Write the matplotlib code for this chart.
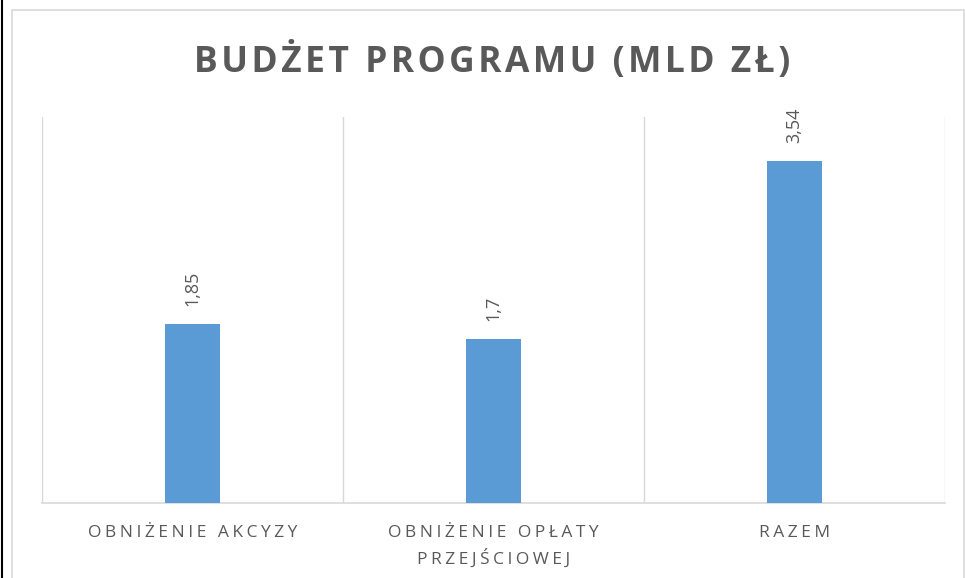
import matplotlib.pyplot as plt
from matplotlib.patches import Rectangle
from matplotlib.lines import Line2D

categories = ['OBNIŻENIE AKCYZY', 'OBNIŻENIE OPŁATY\nPRZEJŚCIOWEJ', 'RAZEM']
values = [1.85, 1.7, 3.54]
value_labels = ['1,85', '1,7', '3,54']
title = 'BUDŻET PROGRAMU (MLD ZŁ)'

bar_color = '#5b9bd5'
grid_color = '#d9d9d9'
text_color = '#595959'


def spaced(s, sep='\u2009'):
    # fake letter spacing
    return '\n'.join(sep.join(line) for line in s.split('\n'))


plt.rcParams['font.family'] = ['Open Sans', 'DejaVu Sans']

fig = plt.figure(figsize=(9.65, 5.78), dpi=100)
W, H = 965, 578

# chart frame and document border
fig.patches.append(Rectangle((12 / W, -0.05), (W - 13) / W, (H - 10) / H + 0.05,
                             transform=fig.transFigure, fill=False,
                             edgecolor=grid_color, linewidth=1.2))
fig.lines.append(Line2D([2 / W, 2 / W], [0, 1], transform=fig.transFigure,
                        color='black', linewidth=1.5))

ax = fig.add_axes([42 / W, 75 / H, 903 / W, 386 / H])
x = range(len(categories))
ax.bar(x, values, width=0.18, color=bar_color, zorder=3)
for xi, v, lab in zip(x, values, value_labels):
    ax.text(xi, v + 0.19, lab, rotation=90, ha='center', va='bottom',
            fontsize=13, color=text_color)

for b in [-0.5, 0.5, 1.5, 2.5]:
    ax.axvline(b, color=grid_color, linewidth=1, zorder=1)

ax.set_xlim(-0.5, 2.5)
ax.set_ylim(0, 4)
ax.set_yticks([])
ax.set_xticks(list(x))
ax.set_xticklabels([spaced(c, '\u200a\u200a') for c in categories],
                   fontsize=12.5, color=text_color, linespacing=1.5)
ax.tick_params(axis='x', length=0, pad=16)
for s in ['top', 'left', 'right']:
    ax.spines[s].set_visible(False)
ax.spines['bottom'].set_color(grid_color)
ax.spines['bottom'].set_linewidth(1.2)

fig.text(0.51, 1 - 62 / H, spaced(title, '\u200a'), ha='center', va='center',
         fontsize=25.5, fontweight='bold', color=text_color)

fig.savefig('out.png', dpi=100)
